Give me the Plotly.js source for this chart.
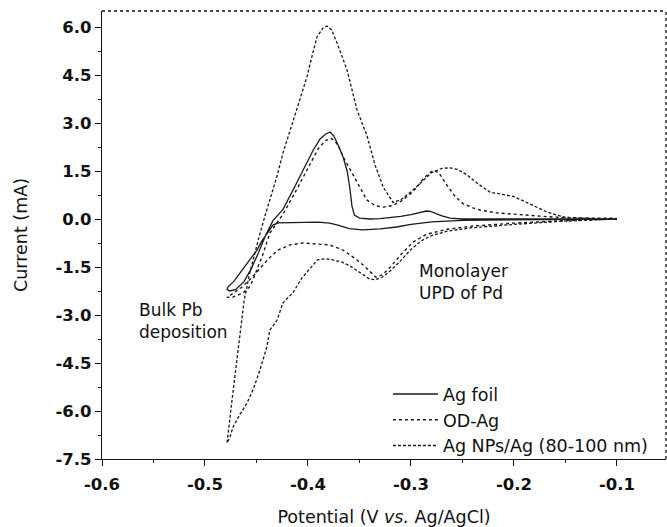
<!DOCTYPE html>
<html>
<head>
<meta charset="utf-8">
<script src="https://cdn.plot.ly/plotly-3.0.1.min.js"></script>
<style>html,body{margin:0;padding:0;background:#fff}#chart{width:667px;height:527px}</style>
</head>
<body>
<div id="chart"></div>
<script>
// ---- Data (Potential in V vs. Ag/AgCl, Current in mA) ----
const seriesNames = ["Ag foil", "OD-Ag", "Ag NPs/Ag (80-100 nm)"];

const foilV = [-0.1, -0.15, -0.2, -0.25, -0.28, -0.30, -0.314, -0.33, -0.347, -0.36, -0.37, -0.379, -0.39, -0.408, -0.42, -0.429, -0.434, -0.439, -0.445, -0.4495, -0.458, -0.466, -0.472, -0.4776, -0.4786,
  -0.476, -0.47, -0.462, -0.455, -0.448, -0.441, -0.434, -0.4243, -0.413, -0.401, -0.395, -0.3883, -0.383, -0.3786, -0.375, -0.372, -0.366, -0.362, -0.3595, -0.3573, -0.355, -0.35, -0.34, -0.33, -0.32, -0.31, -0.30, -0.292, -0.285, -0.281, -0.276, -0.27, -0.262, -0.25, -0.2, -0.15, -0.1];
const foilI = [0.0, -0.02, -0.03, -0.04, -0.09, -0.17, -0.25, -0.31, -0.34, -0.3, -0.2, -0.13, -0.1, -0.1, -0.11, -0.12, -0.19, -0.41, -0.7, -0.97, -1.35, -1.69, -1.95, -2.12, -2.2,
  -2.25, -2.2, -1.95, -1.55, -1.05, -0.5, -0.05, 0.3, 1.0, 1.8, 2.15, 2.5, 2.65, 2.72, 2.6, 2.4, 1.95, 1.5, 1.0, 0.4, 0.12, 0.03, 0.0, 0.01, 0.04, 0.08, 0.14, 0.2, 0.25, 0.24, 0.18, 0.1, 0.03, 0.0, 0.0, 0.0, 0.0];

const odV = [-0.1, -0.15, -0.2, -0.24, -0.265, -0.285, -0.298, -0.31, -0.32, -0.328, -0.334, -0.34, -0.346, -0.3524, -0.36, -0.366, -0.379, -0.392, -0.405, -0.4175, -0.429, -0.437, -0.445, -0.455, -0.465, -0.4786,
  -0.4728, -0.463, -0.456, -0.45, -0.4447, -0.437, -0.43, -0.4243, -0.413, -0.401, -0.39, -0.383, -0.378, -0.374, -0.37, -0.366, -0.3524, -0.343, -0.335, -0.327, -0.318, -0.31, -0.3, -0.294, -0.287, -0.2786, -0.273, -0.265, -0.257, -0.2495, -0.24, -0.233, -0.2165, -0.19, -0.162, -0.13, -0.1];
const odI = [0.0, -0.05, -0.13, -0.22, -0.32, -0.48, -0.72, -1.12, -1.5, -1.75, -1.82, -1.62, -1.45, -1.28, -1.1, -0.97, -0.81, -0.77, -0.75, -0.81, -0.97, -1.2, -1.5, -1.85, -2.15, -2.45,
  -2.44, -2.31, -2.1, -1.6, -1.19, -0.44, -0.1, 0.15, 0.8, 1.55, 2.2, 2.45, 2.52, 2.45, 2.25, 1.95, 1.13, 0.6, 0.42, 0.37, 0.42, 0.55, 0.8, 1.0, 1.3, 1.52, 1.45, 1.05, 0.7, 0.48, 0.35, 0.28, 0.19, 0.12, 0.06, 0.03, 0.02];

const npV = [-0.1, -0.13, -0.16, -0.2, -0.24, -0.265, -0.28, -0.29, -0.30, -0.31, -0.32, -0.328, -0.335, -0.341, -0.3466, -0.353, -0.359, -0.367, -0.3757, -0.383, -0.391, -0.398, -0.406, -0.4146, -0.4243, -0.43, -0.437, -0.44, -0.4466, -0.4534, -0.4592, -0.466, -0.4728, -0.4757, -0.4786,
  -0.4728, -0.467, -0.462, -0.457, -0.452, -0.447, -0.4417, -0.437, -0.43, -0.4243, -0.416, -0.4078, -0.401, -0.396, -0.3913, -0.3854, -0.3816, -0.377, -0.3718, -0.3621, -0.3524, -0.3427, -0.335, -0.327, -0.3175, -0.31, -0.3, -0.29, -0.28, -0.27, -0.262, -0.255, -0.2456, -0.235, -0.2233, -0.213, -0.2, -0.19, -0.178, -0.168, -0.158, -0.15, -0.13, -0.1];
const npI = [0.0, -0.03, -0.08, -0.17, -0.27, -0.38, -0.52, -0.68, -0.95, -1.3, -1.62, -1.82, -1.9, -1.86, -1.75, -1.6, -1.47, -1.35, -1.28, -1.24, -1.28, -1.55, -1.85, -2.3, -2.62, -3.16, -3.47, -4.0, -4.72, -5.34, -5.75, -6.1, -6.5, -6.81, -7.0,
  -5.4, -3.9, -2.55, -1.75, -1.1, -0.5, 0.1, 0.6, 1.35, 2.06, 2.9, 3.72, 4.44, 5.1, 5.69, 5.97, 6.03, 5.91, 5.5, 4.66, 3.41, 2.6, 1.7, 1.0, 0.52, 0.6, 0.85, 1.15, 1.45, 1.58, 1.6, 1.55, 1.38, 1.1, 0.84, 0.78, 0.7, 0.55, 0.38, 0.22, 0.12, 0.05, 0.02, 0.0];

const xTickVals = [-0.6, -0.5, -0.4, -0.3, -0.2, -0.1];
const xTickText = ["-0.6", "-0.5", "-0.4", "-0.3", "-0.2", "-0.1"];
const xMinorVals = [-0.55, -0.45, -0.35, -0.25, -0.15, -0.05];
const yTickVals = [-7.5, -6.0, -4.5, -3.0, -1.5, 0.0, 1.5, 3.0, 4.5, 6.0];
const yTickText = ["-7.5", "-6.0", "-4.5", "-3.0", "-1.5", "0.0", "1.5", "3.0", "4.5", "6.0"];
const yMinorVals = [-6.75, -5.25, -3.75, -2.25, -0.75, 0.75, 2.25, 3.75, 5.25];

// ---- Traces ----
const lineColor = "#1a1a1a";
const traces = [
  {x: foilV, y: foilI, name: seriesNames[0], legendgroup: "a", mode: "lines",
   line: {color: lineColor, width: 1.3, dash: "solid"}},
  {x: odV, y: odI, name: seriesNames[1], legendgroup: "b", mode: "lines",
   line: {color: lineColor, width: 1.4, dash: "dot"}},
  {x: npV, y: npI, name: seriesNames[2], legendgroup: "c", mode: "lines",
   line: {color: lineColor, width: 1.3, dash: "3px,2px"}}
];

const tickFont = {family: "DejaVu Sans", size: 16.5, color: "#111", weight: "bold"};
const textFont = {family: "DejaVu Sans", size: 17, color: "#111"};

const layout = {
  width: 667, height: 527,
  margin: {l: 102, r: 1, t: 11, b: 68},
  paper_bgcolor: "#fff", plot_bgcolor: "#fff",
  showlegend: true,
  xaxis: {
    range: [-0.6, -0.0524], tickmode: "array", tickvals: xTickVals, ticktext: xTickText,
    ticks: "outside", ticklen: 6, tickwidth: 1, tickcolor: "#111", ticklabelstandoff: 4,
    minor: {tickvals: xMinorVals, ticks: "outside", ticklen: 3, tickcolor: "#111"},
    showline: true, linecolor: "#111", linewidth: 1.2, showgrid: false, zeroline: false,
    tickfont: tickFont,
    title: {text: "Potential (V <i>vs.</i> Ag/AgCl)", font: {family: "DejaVu Sans", size: 17.5, color: "#111"}, standoff: 19},
    automargin: false
  },
  yaxis: {
    range: [-7.5, 6.5], tickmode: "array", tickvals: yTickVals, ticktext: yTickText,
    ticks: "outside", ticklen: 6, tickwidth: 1, tickcolor: "#111",
    minor: {tickvals: yMinorVals, ticks: "outside", ticklen: 3, tickcolor: "#111"},
    showline: true, linecolor: "#111", linewidth: 1.2, showgrid: false, zeroline: false,
    tickfont: tickFont,
    title: {text: "Current (mA)", font: {family: "DejaVu Sans", size: 17.5, color: "#111"}, standoff: 23},
    automargin: false
  },
  legend: {
    x: 0.507, y: 0.185, xanchor: "left", yanchor: "top",
    bgcolor: "rgba(0,0,0,0)", font: {family: "DejaVu Sans", size: 17.5, color: "#111"},
    itemwidth: 45, tracegroupgap: 1, traceorder: "normal"
  },
  shapes: [
    {type: "line", xref: "paper", yref: "paper", x0: 0, x1: 1, y0: 1, y1: 1,
     line: {color: "#111", width: 1.3, dash: "dot"}},
    {type: "line", xref: "paper", yref: "paper", x0: 1, x1: 1, y0: 0, y1: 1,
     line: {color: "#111", width: 1.3, dash: "dot"}}
  ],
  annotations: [
    {x: -0.566, y: -3.2, xref: "x", yref: "y", xanchor: "left", yanchor: "middle", align: "left",
     text: "Bulk Pb<br>deposition", showarrow: false, font: textFont},
    {x: -0.2942, y: -1.97, xref: "x", yref: "y", xanchor: "left", yanchor: "middle", align: "left",
     text: "Monolayer<br>UPD of Pd", showarrow: false, font: textFont}
  ]
};

Plotly.newPlot("chart", traces, layout, {displayModeBar: false, staticPlot: true});
</script>
</body>
</html>
